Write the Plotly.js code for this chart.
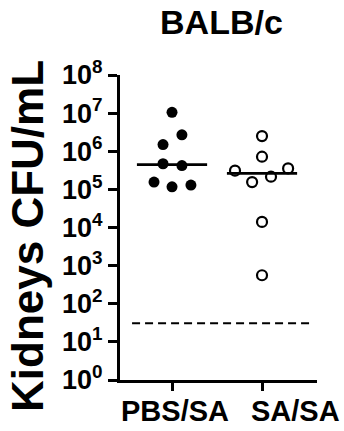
<!DOCTYPE html>
<html>
<head>
<meta charset="utf-8">
<script src="https://cdn.plot.ly/plotly-3.0.1.min.js"></script>
<style>html,body{margin:0;padding:0;background:#fff;}#chart{width:344px;height:431px;}</style>
</head>
<body>
<div id="chart"></div>
<script>
// ---- data ----
const categories = ['PBS/SA', 'SA/SA'];
const pbsSA = [1.05e7, 2.7e6, 1.5e6, 4.7e5, 4.2e5, 1.55e5, 1.17e5, 1.3e5];
const saSA = [2.5e6, 7.2e5, 3.1e5, 3.55e5, 2.15e5, 1.55e5, 1.4e4, 5.6e2];
const detectionLimit = 31;
const yTickVals = [1, 10, 100, 1e3, 1e4, 1e5, 1e6, 1e7, 1e8];
const yTickText = ['10<sup>0</sup>', '10<sup>1</sup>', '10<sup>2</sup>', '10<sup>3</sup>', '10<sup>4</sup>', '10<sup>5</sup>', '10<sup>6</sup>', '10<sup>7</sup>', '10<sup>8</sup>'];

// horizontal scatter (jitter) offsets, in category units
const pbsJitter = [0, 0.11, -0.1, -0.1, 0.11, -0.2, 0, 0.21];
const saJitter = [0, 0, -0.3, 0.29, 0.1, -0.11, 0, 0];
// category label centres (labels in the figure are not centred on ticks)
const labelX = [1.03, 2.37];

function median(a) {
  const s = a.slice().sort((p, q) => p - q);
  const n = s.length;
  return n % 2 ? s[(n - 1) / 2] : (s[n / 2 - 1] + s[n / 2]) / 2;
}

const FONT = 'Liberation Sans, Arial, Helvetica, sans-serif';
const halfW = 0.39;

const traces = [
  {
    x: pbsSA.map((v, i) => 1 + pbsJitter[i]), y: pbsSA, type: 'scatter', mode: 'markers',
    marker: {symbol: 'circle', size: 11, color: '#000'}
  },
  {
    x: saSA.map((v, i) => 2 + saJitter[i]), y: saSA, type: 'scatter', mode: 'markers',
    marker: {symbol: 'circle-open', size: 10, color: '#000', line: {width: 2.2, color: '#000'}}
  },
  {
    x: [1 - halfW, 1 + halfW], y: [median(pbsSA), median(pbsSA)], type: 'scatter', mode: 'lines',
    line: {color: '#000', width: 2.6}
  },
  {
    x: [2 - halfW, 2 + halfW], y: [median(saSA), median(saSA)], type: 'scatter', mode: 'lines',
    line: {color: '#000', width: 2.6}
  },
  {
    x: [0.556, 2.567], y: [detectionLimit, detectionLimit], type: 'scatter', mode: 'lines',
    line: {color: '#000', width: 2, dash: '8px,5px'}
  }
];

const annotations = categories.map((c, i) => ({
  text: c, xref: 'x', x: labelX[i], yref: 'paper', y: -0.1016,
  xanchor: 'center', yanchor: 'middle', showarrow: false,
  font: {family: FONT, size: 29, color: '#000', weight: 'bold'}
}));
annotations.push({
  text: 'Kidneys CFU/mL', textangle: -90,
  xref: 'paper', x: (27 - 120) / 197, yref: 'paper', y: (380 - 236) / 305,
  xanchor: 'center', yanchor: 'middle', showarrow: false,
  font: {family: FONT, size: 44, color: '#000', weight: 'bold'}
});

const layout = {
  width: 344, height: 431,
  margin: {l: 120, r: 27, t: 75, b: 51},
  paper_bgcolor: '#fff', plot_bgcolor: '#fff',
  showlegend: false,
  font: {family: FONT, color: '#000', weight: 'bold'},
  title: {
    text: 'BALB/c', font: {family: FONT, size: 34, color: '#000', weight: 'bold'},
    xref: 'paper', x: 0.515, xanchor: 'center',
    yref: 'container', y: 1 - 22.5 / 431, yanchor: 'middle'
  },
  annotations: annotations,
  xaxis: {
    type: 'linear', range: [0.422, 2.611],
    tickmode: 'array', tickvals: [1, 2], showticklabels: false,
    showgrid: false, zeroline: false,
    showline: true, linewidth: 3, linecolor: '#000',
    ticks: 'outside', ticklen: 8, tickwidth: 3, tickcolor: '#000'
  },
  yaxis: {
    type: 'log', range: [0, 8],
    tickmode: 'array', tickvals: yTickVals, ticktext: yTickText,
    showgrid: false, zeroline: false,
    showline: true, linewidth: 3, linecolor: '#000',
    ticks: 'outside', ticklen: 9, tickwidth: 3, tickcolor: '#000',
    tickfont: {family: FONT, size: 27, color: '#000', weight: 'bold'}
  }
};

Plotly.newPlot('chart', traces, layout, {staticPlot: true, displayModeBar: false});
</script>
</body>
</html>
